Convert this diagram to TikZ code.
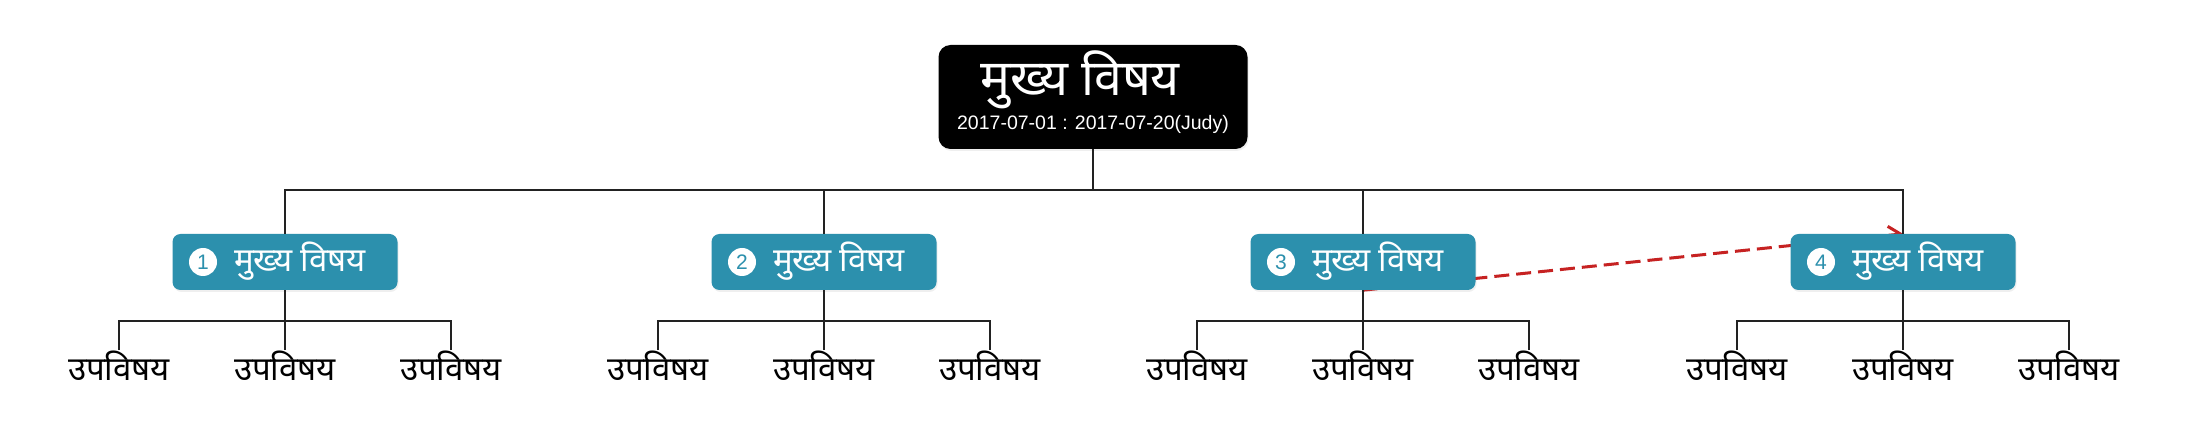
\documentclass[tikz,border=0pt]{standalone}
\usepackage{fontspec}
\setmainfont{Liberation Sans}
\newfontfamily\deva[Script=Devanagari]{Noto Sans}
\usetikzlibrary{arrows.meta,backgrounds,shadows}
\definecolor{teal1}{HTML}{2C90AD}
\definecolor{redl}{HTML}{C62222}
\definecolor{linec}{HTML}{222222}
\begin{document}
\begin{tikzpicture}[x=1pt,y=-1pt,
 rootbox/.style={fill=black, rounded corners=12pt, minimum width=309pt, minimum height=104pt, inner sep=0pt,
   drop shadow={opacity=0.12, shadow xshift=1pt, shadow yshift=-2pt}},
 topicbox/.style={fill=teal1, rounded corners=8pt, minimum width=225pt, minimum height=56pt, inner sep=0pt,
   drop shadow={opacity=0.12, shadow xshift=1pt, shadow yshift=-2pt}},
 numc/.style={circle, fill=white, minimum size=28pt, inner sep=0pt, text=teal1, font=\fontsize{21}{21}\selectfont},
 ttext/.style={text=white, font=\deva\fontsize{33}{33}\selectfont, inner sep=0pt},
 roottext/.style={text=white, font=\deva\fontsize{50}{50}\selectfont, inner sep=0pt},
 datetext/.style={text=white, font=\fontsize{19.5}{19.5}\selectfont, inner sep=0pt},
 subtext/.style={text=black, font=\deva\fontsize{33}{33}\selectfont, inner sep=0pt},
 conn/.style={draw=linec, line width=2pt},
 rel/.style={draw=redl, line width=3pt, dash pattern=on 15pt off 7pt, -{Straight Barb[length=12pt,width=18pt]}}
]
\useasboundingbox (0,0) rectangle (2187,443);
\node[rootbox] (root) at (1093,97) {};
\node[roottext, anchor=base] (roottitle) at (1080,96) {मुख्य विषय};
\node[datetext, anchor=base] (rootdate) at (1093,130) {2017-07-01 : 2017-07-20(Judy)};
\foreach \i/\x in {1/285,2/824,3/1363,4/1903} {
  \node[topicbox] (t\i) at (\x,262) {};
  \node[numc] (n\i) at (\x-82,262) {\i};
  \node[ttext, anchor=base] (l\i) at (\x+15,272) {मुख्य विषय};
  \draw[conn] (root.south) -- ++(0,41) -| (t\i.north);
  \foreach \j/\dx in {1/-166,2/0,3/166} {
    \coordinate (c\i\j) at (\x+\dx,350);
    \node[subtext, anchor=base] (s\i\j) at (\x+\dx,381) {उपविषय};
    \draw[conn] (t\i.south) -- ++(0,31) -| (c\i\j);
  }
}
\begin{scope}[on background layer]
  \fill[white] (0,0) rectangle (2187,443);
  \draw[rel] (t3.south) -- (t4.north);
\end{scope}
\end{tikzpicture}
\end{document}
